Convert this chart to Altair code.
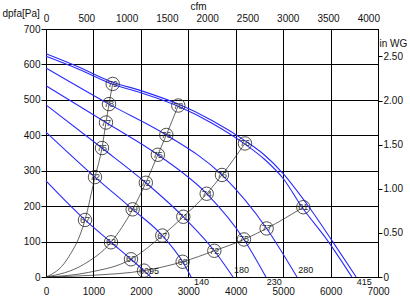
import altair as alt
import pandas as pd

# ---------- data (m³/h, Pa) ----------
fan_names = ["95", "140", "180", "230", "280", "415a", "415b"]
fan_x = [
    [0, 822, 1370, 1792, 2066, 2207],
    [0, 1033, 1827, 2452, 2881, 3060],
    [0, 1180, 2105, 2895, 3549, 3943],
    [0, 1265, 2358, 3388, 4174, 4638],
    [0, 1328, 2537, 3710, 4652, 5292],
    [0, 700, 1406, 2000, 2789, 3500, 4195, 4600, 5000, 5500, 6044, 6540],
    [0, 700, 1406, 2000, 2789, 3500, 4195, 4600, 5000, 5400, 5952, 6450],
]
fan_y = [
    [271, 161, 98, 50, 18, 0],
    [409, 282, 191, 117, 43, 0],
    [486, 364, 266, 170, 74, 0],
    [540, 436, 345, 235, 106, 0],
    [590, 488, 401, 288, 137, 0],
    [630, 592, 550, 526, 488, 442, 385, 345, 292, 206, 100, 0],
    [623, 586, 544, 520, 482, 434, 375, 333, 278, 197, 100, 0],
]

sys_x = [
    [0, 435, 822, 1033, 1180, 1265, 1328, 1406],
    [0, 787, 1370, 1827, 2105, 2358, 2537, 2789],
    [0, 900, 1792, 2452, 2895, 3388, 3710, 4195],
    [0, 1000, 2066, 2881, 3549, 4174, 4652, 5425],
]
sys_y = [
    [0, 48, 161, 282, 364, 436, 488, 545],
    [0, 35, 98, 191, 266, 345, 401, 484],
    [0, 13, 50, 117, 170, 235, 288, 377],
    [0, 5, 18, 43, 74, 106, 137, 197],
]

eff_x = [822, 1033, 1180, 1265, 1328, 1406,
         1370, 1827, 2105, 2358, 2537, 2789,
         1792, 2452, 2895, 3388, 3710, 4195,
         2066, 2881, 3549, 4174, 4652, 5425]
eff_y = [161, 282, 364, 436, 488, 545,
         98, 191, 266, 345, 401, 484,
         50, 117, 170, 235, 288, 377,
         18, 43, 74, 106, 137, 197]
eff_label = ["67", "72", "75", "77", "78", "79",
             "62", "69", "72", "75", "76", "78",
             "60", "67", "71", "74", "76", "76",
             "60", "68", "72", "75", "77", "81"]

end_x = [2171, 3120, 3963, 4652, 5318, 6550]
end_y = [17, -13, 20, -13, 19, -15]
end_text = ["95", "140", "180", "230", "280", "415"]

x_ticks = [0, 1000, 2000, 3000, 4000, 5000, 6000, 7000]
y_ticks = [0, 100, 200, 300, 400, 500, 600, 700]
cfm_ticks = [0, 500, 1000, 1500, 2000, 2500, 3000, 3500, 4000]
inwg_ticks = [0, 0.5, 1.0, 1.5, 2.0, 2.5]

CFM_MAX = 7000 / 1.69901
INWG_MAX = 700 / 249.089

FONT = "Liberation Sans"

# ---------- tables ----------
fan_rows = []
for n, xs, ys in zip(fan_names, fan_x, fan_y):
    for i, (a, b) in enumerate(zip(xs, ys)):
        fan_rows.append({"curve": n, "i": i, "x": a, "y": b})
fan_df = pd.DataFrame(fan_rows)

sys_rows = []
for k, (xs, ys) in enumerate(zip(sys_x, sys_y)):
    for i, (a, b) in enumerate(zip(xs, ys)):
        sys_rows.append({"curve": f"s{k}", "i": i, "x": a, "y": b})
sys_df = pd.DataFrame(sys_rows)

eff_df = pd.DataFrame({"x": eff_x, "y": eff_y, "label": eff_label})
end_df = pd.DataFrame({"x": end_x, "y": end_y, "label": end_text})

xscale = alt.Scale(domain=[0, 7000], nice=False, zero=False)
yscale = alt.Scale(domain=[0, 700], nice=False, zero=False)

x_axis = alt.Axis(values=x_ticks, format="d", grid=True, gridColor="black", gridOpacity=1, gridWidth=1,
                  ticks=False, tickSize=0, labelPadding=9, labelFontSize=10, labelFont=FONT,
                  labelColor="#111", domainColor="black", title=None, labelFlush=False)
y_axis = alt.Axis(values=y_ticks, format="d", grid=True, gridColor="black", gridOpacity=1, gridWidth=1,
                  tickSize=5, tickColor="black", labelPadding=1, labelFontSize=10, labelFont=FONT,
                  labelColor="#111", domainColor="black", title="dpfa[Pa]", titleAngle=0,
                  titleX=-44, titleY=-16, titleAlign="left", titleBaseline="middle",
                  titleFont=FONT, titleFontSize=10, titleFontWeight="normal", titleColor="#111",
                  labelFlush=False)

X = alt.X("x:Q", scale=xscale, axis=x_axis)
Y = alt.Y("y:Q", scale=yscale, axis=y_axis)

fans = alt.Chart(fan_df).mark_line(color="#2a2aff", strokeWidth=1.1, interpolate="monotone").encode(
    x=X, y=Y, detail="curve:N", order="i:Q")

systems = alt.Chart(sys_df).mark_line(color="#222", strokeWidth=0.7, interpolate="monotone").encode(
    x=X, y=Y, detail="curve:N", order="i:Q")

circles = alt.Chart(eff_df).mark_point(shape="circle", filled=False, size=180, color="#222",
                                       strokeWidth=0.8, opacity=1).encode(x=X, y=Y)

circ_text = alt.Chart(eff_df).mark_text(fontSize=9, font=FONT, color="#333", baseline="middle",
                                        align="center").encode(x=X, y=Y, text="label:N")

end_labels = alt.Chart(end_df).mark_text(fontSize=9, font=FONT, color="#111", baseline="middle",
                                         align="left").encode(x=X, y=Y, text="label:N")

main = alt.layer(fans, systems, circles, circ_text, end_labels)

axis_df = pd.DataFrame({"cfm": [0], "inwg": [0]})
secondary = alt.Chart(axis_df).mark_point(opacity=0).encode(
    x=alt.X("cfm:Q", scale=alt.Scale(domain=[0, CFM_MAX], nice=False, zero=False),
            axis=alt.Axis(orient="top", values=cfm_ticks, format="d", grid=False, ticks=False,
                          tickSize=0, labelPadding=6, labelFontSize=10, labelFont=FONT,
                          labelColor="#111", domainColor="black", labelFlush=False,
                          title="cfm", titleX=152, titleY=-23, titleAlign="center",
                          titleBaseline="middle", titleFont=FONT, titleFontSize=10,
                          titleFontWeight="normal", titleColor="#111")),
    y=alt.Y("inwg:Q", scale=alt.Scale(domain=[0, INWG_MAX], nice=False, zero=False),
            axis=alt.Axis(orient="right", values=inwg_ticks, grid=False, tickSize=4,
                          tickColor="black", labelPadding=1, labelFontSize=10, labelFont=FONT,
                          labelColor="#111", domainColor="black", labelFlush=False,
                          labelExpr="datum.value == 0 ? '0' : format(datum.value, '.2f')",
                          title="in WG", titleAngle=0, titleX=1, titleY=14, titleAlign="left",
                          titleBaseline="middle", titleFont=FONT, titleFontSize=10,
                          titleFontWeight="normal", titleColor="#111")),
)

chart = alt.layer(main, secondary).resolve_scale(x="independent", y="independent").properties(
    width=332, height=248,
    autosize=alt.AutoSizeParams(type="none"),
    padding={"left": 46, "top": 29, "right": 32, "bottom": 23},
    background="white",
).configure_view(stroke="black", strokeWidth=1)

chart.save("out.html", embed_options={"renderer": "svg", "actions": False})
